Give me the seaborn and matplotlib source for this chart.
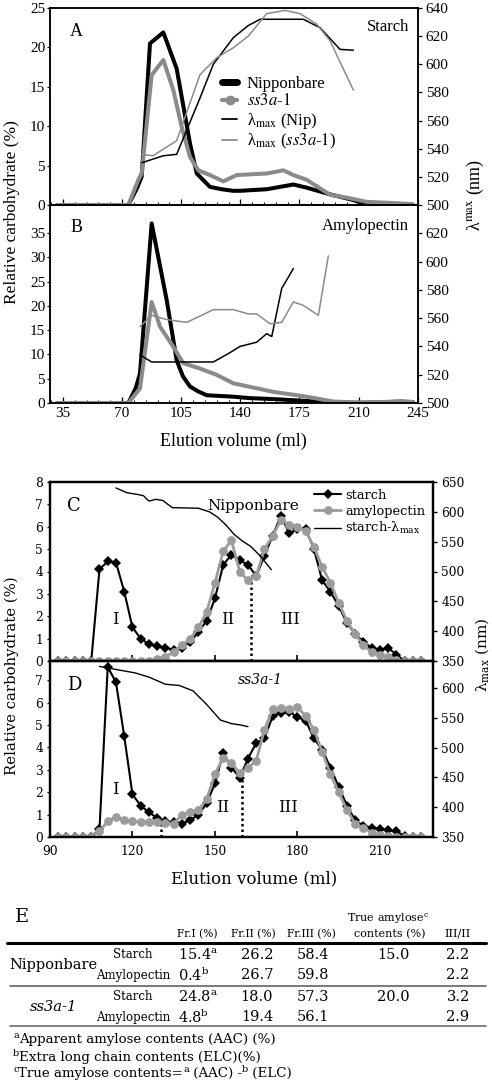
import numpy as np
import pandas as pd
import seaborn as sns
import matplotlib
matplotlib.use("Agg")
import matplotlib.pyplot as plt
from matplotlib.lines import Line2D
from matplotlib.font_manager import FontProperties
from matplotlib.ticker import MultipleLocator

# ---------------- panel A: starch, gel filtration (Relative carbohydrate %) ----------------
a_nip_vol = [31.5, 73.7, 78.7, 81.6, 86.5, 94.4, 102.3, 110.2, 114.2, 122, 129, 135.7,
             139.8, 155.6, 171.4, 179.3, 193.1, 206.9, 212.8, 230, 242.2]
a_nip_val = [0, 0, 2.1, 3.6, 20.5, 21.9, 17.3, 7.8, 4.0, 2.3, 2.0, 1.8,
             1.8, 2.0, 2.6, 2.2, 1.35, 0.63, 0.2, 0.1, 0]
a_ss3_vol = [31.5, 73.7, 79.6, 81.6, 87.5, 94.4, 100.3, 105.3, 110.2, 115.1, 122, 129.9,
             137.9, 155.6, 165.5, 171.4, 179.3, 193.1, 205, 214.8, 230.6, 242.2]
a_ss3_val = [0, 0, 3.2, 4.0, 16.5, 18.4, 14.6, 9.9, 6.1, 4.4, 3.8, 3.0,
             3.8, 4.0, 4.4, 3.8, 3.2, 1.3, 0.85, 0.4, 0.25, 0.1]
# lambda max (nm)
a_lam_nip_vol = [81.6, 94.4, 102.3, 116.1, 124, 135.9, 144.7, 151.7, 177.3, 187.2, 199, 206.9]
a_lam_nip_nm = [530, 535, 536, 576, 600, 619, 627.5, 632, 632, 626, 610.6, 610]
a_lam_ss3_vol = [81.6, 88.3, 102.3, 116.1, 126, 135.9, 144.7, 155.6, 166.5, 175.3, 185.2, 193.1, 206.9]
a_lam_ss3_nm = [536, 535, 545.7, 592.6, 604.6, 611.8, 620, 636, 638.3, 636, 628.6, 616.7, 581.7]

# ---------------- panel B: amylopectin ----------------
b_nip_vol = [31.5, 73.7, 78, 80.6, 87.5, 96.4, 102.3, 106, 110.2, 115, 120.1, 128, 135.9,
             145.7, 160, 175, 190, 200, 220, 235, 242.2]
b_nip_val = [0, 0, 3, 6.1, 37, 21.2, 8.8, 5.5, 3.4, 2.4, 1.6, 1.45, 1.3,
             1.0, 0.8, 0.5, 0.2, 0, 0.1, 0.3, 0.2]
b_ss3_vol = [31.5, 73.7, 80.6, 87.5, 92.5, 100.3, 106.2, 116.1, 126, 135.9, 144.7, 159.5,
             179.3, 195.1, 210, 234.6, 242.2]
b_ss3_val = [0, 0, 3.0, 20.8, 15.7, 11.6, 8.2, 7.1, 5.8, 4.05, 3.4, 2.3,
             1.3, 0.3, 0.1, 0.3, 0.2]
b_lam_nip_vol = [80.6, 87.5, 124, 133, 139.8, 149.7, 155.6, 158.6, 164.5, 171.4]
b_lam_nip_nm = [534, 529, 529, 535, 540, 543, 549, 547, 581, 595]
b_lam_ss3_vol = [80.6, 87.5, 96.4, 108.3, 124, 135.9, 144.7, 149.7, 157.6, 164.5, 171.4, 177.3, 186.2, 192.1]
b_lam_ss3_nm = [554, 562, 559, 557, 566, 566, 563, 563, 556, 557, 571.5, 569, 562, 604]

ab_xticks = [35, 70, 105, 140, 175, 210, 245]

# ---------------- panels C / D: debranched, fractions every 3 ml ----------------
cd_vol = [93, 96, 99, 102, 105, 108, 111, 114, 117, 120, 123, 126, 129, 132, 135,
          138, 141, 144, 147, 150, 153, 156, 159, 162, 165, 168, 171, 174, 177, 180,
          183, 186, 189, 192, 195, 198, 201, 204, 207, 210, 213, 216, 219, 222, 225]
c_starch = [0, 0, 0, 0, 0, 4.1, 4.45, 4.4, 3.1, 1.5, 1.0, 0.75, 0.65, 0.6, 0.5,
            0.6, 0.85, 1.3, 1.8, 2.8, 4.3, 4.75, 4.5, 4.3, 3.8, 4.7, 5.6, 6.5, 5.7, 5.9,
            5.9, 5.0, 3.6, 3.1, 2.45, 1.7, 1.2, 0.86, 0.58, 0.5, 0.58, 0.29, 0, 0, 0]
c_amylo = [0, 0, 0, 0, 0, 0, 0, 0, 0, 0, 0, 0, 0.1, 0.2, 0.4,
           0.7, 1.0, 1.5, 2.2, 3.5, 4.9, 5.4, 4.0, 3.6, 3.8, 5.0, 5.6, 6.3, 6.1, 6.0,
           5.8, 5.1, 4.2, 3.5, 2.6, 1.8, 1.2, 0.7, 0.4, 0.27, 0.2, 0.05, 0, 0, 0]
c_lam_vol = [114, 118, 122, 124, 126, 128.5, 131, 134.5, 144, 148, 151, 154, 157, 160, 163, 166.5, 170.5]
c_lam_nm = [640, 632, 629, 627, 618, 621, 619, 607, 606, 600, 591, 578, 562, 551, 542, 526, 503]
c_cut_vol = [163]
c_cut_top = [3.6]

d_starch = [0, 0, 0, 0, 0, 0.35, 7.6, 6.9, 4.5, 1.9, 1.4, 1.1, 0.85, 0.7, 0.65,
            0.6, 0.75, 1.0, 1.5, 2.4, 3.75, 3.1, 2.65, 3.5, 4.2, 4.4, 5.4, 5.55, 5.6, 5.35,
            5.2, 4.4, 3.9, 3.1, 2.25, 1.4, 0.75, 0.5, 0.42, 0.35, 0.3, 0.25, 0.05, 0, 0]
d_amylo = [0, 0, 0, 0, 0, 0.25, 0.7, 0.9, 0.75, 0.7, 0.68, 0.66, 0.65, 0.62, 0.6,
           1.0, 1.1, 1.2, 1.7, 2.8, 3.55, 3.3, 2.85, 3.1, 3.4, 4.8, 5.7, 5.75, 5.7, 5.8,
           5.4, 4.8, 3.8, 2.8, 2.0, 1.2, 0.6, 0.4, 0.2, 0.1, 0.05, 0, 0, 0, 0]
d_lam_vol = [108, 115, 121, 126, 132, 137, 142, 147, 152, 156, 159, 162]
d_lam_nm = [636, 630, 625, 618, 606, 604, 595, 572, 546, 540, 538, 535]
d_cut_vol = [130.5, 160]
d_cut_top = [0.6, 2.7]

cd_xticks = [90, 120, 150, 180, 210]

# ---------------- table E ----------------
tab_lines = ["Nipponbare", "ss3a-1"]
tab_prep = ["Starch", "Amylopectin", "Starch", "Amylopectin"]
tab_fr1 = ["15.4", "0.4", "24.8", "4.8"]
tab_fr1_note = ["a", "b", "a", "b"]
tab_fr2 = ["26.2", "26.7", "18.0", "19.4"]
tab_fr3 = ["58.4", "59.8", "57.3", "56.1"]
tab_true = ["15.0", "", "20.0", ""]
tab_ratio = ["2.2", "2.2", "3.2", "2.9"]

BLACK = "black"
GREY = "#8a8a8a"
DOT = "#9c9c9c"
SERIF2 = "DejaVu Serif"

sns.set_style("white")
plt.rcParams.update({
    "font.family": ["Liberation Serif", "DejaVu Serif"],
    "mathtext.fontset": "stix",
    "axes.edgecolor": "black",
    "text.color": "black",
    "xtick.color": "black",
    "ytick.color": "black",
})

W, H = 492, 1092
fig = plt.figure(figsize=(W / 100, H / 100), dpi=100)


def fx(px):
    return px / W


def fy(py):
    return 1 - py / H


def add_ax(l, t, r, b):
    return fig.add_axes([fx(l), fy(b), (r - l) / W, (b - t) / H])


def draw(ax, x, y, **kw):
    sns.lineplot(x=x, y=y, ax=ax, estimator=None, errorbar=None, sort=False,
                 legend=False, **kw)


# ---------- A / B ----------
ax_a = add_ax(50, 8, 418, 205)
ax_b = add_ax(50, 205, 418, 403)
tw_a = ax_a.twinx()
tw_b = ax_b.twinx()

for ax, tw, nv, nval, sv, sval, lnv, lnn, lsv, lsn in [
        (ax_a, tw_a, a_nip_vol, a_nip_val, a_ss3_vol, a_ss3_val,
         a_lam_nip_vol, a_lam_nip_nm, a_lam_ss3_vol, a_lam_ss3_nm),
        (ax_b, tw_b, b_nip_vol, b_nip_val, b_ss3_vol, b_ss3_val,
         b_lam_nip_vol, b_lam_nip_nm, b_lam_ss3_vol, b_lam_ss3_nm)]:
    draw(ax, nv, nval, color=BLACK, linewidth=2.9)
    draw(ax, sv, sval, color=GREY, linewidth=2.9)
    draw(tw, lnv, lnn, color=BLACK, linewidth=1.1)
    draw(tw, lsv, lsn, color=GREY, linewidth=1.1)

for ax, tw, ylim, yt, rt, showx in [
        (ax_a, tw_a, (0, 25), [0, 5, 10, 15, 20, 25], [500, 520, 540, 560, 580, 600, 620, 640], False),
        (ax_b, tw_b, (0, 40.8), [0, 5, 10, 15, 20, 25, 30, 35], [500, 520, 540, 560, 580, 600, 620], True)]:
    ax.set_xlim(27.3, 245.2)
    ax.set_ylim(*ylim)
    ax.set_xticks(ab_xticks)
    ax.xaxis.set_minor_locator(MultipleLocator(7))
    ax.set_yticks(yt)
    tw.set_ylim(500, 640)
    tw.set_yticks(rt)
    ax.set_xlabel("")
    ax.set_ylabel("")
    tw.set_ylabel("")
    ax.tick_params(axis="x", which="major", direction="in", length=4, width=0.9,
                   bottom=True, labelbottom=showx, labelsize=11, pad=3)
    ax.tick_params(axis="x", which="minor", direction="in", length=2.5, width=0.8, bottom=True)
    ax.tick_params(axis="y", direction="out", length=2, width=0.9, left=True, labelsize=11, pad=1.5)
    tw.tick_params(axis="y", direction="out", length=3, width=0.9, right=True, labelsize=11, pad=2.5)
    for a in (ax, tw):
        for s in a.spines.values():
            s.set_linewidth(1.1)
            s.set_color(BLACK)

ax_a.text(0.055, 0.88, "A", transform=ax_a.transAxes, fontsize=13, va="center")
ax_a.text(0.975, 0.905, "Starch", transform=ax_a.transAxes, fontsize=12, ha="right", va="center")
ax_b.text(0.055, 0.885, "B", transform=ax_b.transAxes, fontsize=13, va="center")
ax_b.text(0.975, 0.895, "Amylopectin", transform=ax_b.transAxes, fontsize=12, ha="right", va="center")

leg_fp = FontProperties(family="Liberation Serif", size=12, math_fontfamily="stix")
leg_h = [Line2D([], [], color=BLACK, lw=5),
         Line2D([], [], color=GREY, lw=3, marker="o", ms=6),
         Line2D([], [], color=BLACK, lw=1.3),
         Line2D([], [], color=GREY, lw=1.3)]
leg_l = ["Nipponbare", r"$\mathit{ss3a}$-$\mathit{1}$", r"λ$_{\rm max}$ (Nip)",
         r"λ$_{\rm max}$ ($\mathit{ss3a}$-$\mathit{1}$)"]
tw_a.legend(leg_h, leg_l, loc="upper left", bbox_to_anchor=(fx(222), fy(76)),
            bbox_transform=fig.transFigure, frameon=False, prop=leg_fp,
            handlelength=0.9, handletextpad=0.6, labelspacing=0.08, borderpad=0,
            borderaxespad=0)

fig.text(fx(12), fy(212), "Relative carbohydrate (%)", rotation=90, fontsize=12.5,
         ha="center", va="center")
fig.text(fx(475), fy(195), r"λ$^{\rm max}$ (nm)", rotation=90, fontsize=13,
         ha="center", va="center", math_fontfamily="stix")
fig.text(fx(233), fy(441), "Elution volume (ml)", fontsize=13, ha="center", va="center")

# ---------- C / D ----------
ax_c = add_ax(50, 482, 433, 661)
ax_d = add_ax(50, 661, 433, 837)
tw_c = ax_c.twinx()
tw_d = ax_d.twinx()

for ax, tw, st, am, lv, ln, cv, ct in [
        (ax_c, tw_c, c_starch, c_amylo, c_lam_vol, c_lam_nm, c_cut_vol, c_cut_top),
        (ax_d, tw_d, d_starch, d_amylo, d_lam_vol, d_lam_nm, d_cut_vol, d_cut_top)]:
    ax.vlines(cv, 0, ct, colors=BLACK, linestyles=(0, (1, 1.2)), linewidth=1.8, zorder=1)
    draw(ax, cd_vol, st, color=BLACK, linewidth=1.5, marker="D", markersize=5,
         markeredgewidth=0, markerfacecolor=BLACK)
    draw(ax, cd_vol, am, color=DOT, linewidth=2.0, marker="o", markersize=6.3,
         markeredgewidth=0, markerfacecolor=DOT)
    draw(tw, lv, ln, color=BLACK, linewidth=1.0)

for ax, tw, ylim, yt, rlim, rt, showx in [
        (ax_c, tw_c, (0, 8), list(range(0, 9)), (350, 650), [350, 400, 450, 500, 550, 600, 650], False),
        (ax_d, tw_d, (0, 7.86), list(range(0, 8)), (350, 645), [350, 400, 450, 500, 550, 600], True)]:
    ax.set_xlim(90, 229.3)
    ax.set_ylim(*ylim)
    ax.set_xticks(cd_xticks)
    ax.set_yticks(yt)
    tw.set_ylim(*rlim)
    tw.set_yticks(rt)
    ax.set_xlabel("")
    ax.set_ylabel("")
    tw.set_ylabel("")
    ax.tick_params(axis="x", direction="in", length=4, width=1.2, bottom=True,
                   labelbottom=showx, labelsize=8.8, pad=6, labelfontfamily=SERIF2)
    ax.tick_params(axis="y", direction="out", length=2, width=1.0, left=True,
                   labelsize=8.8, pad=3, labelfontfamily=SERIF2)
    tw.tick_params(axis="y", direction="out", length=3, width=1.0, right=True,
                   labelsize=8.8, pad=3, labelfontfamily=SERIF2)
    for a in (ax, tw):
        for s in a.spines.values():
            s.set_linewidth(1.6)
            s.set_color(BLACK)

ax_c.text(0.045, 0.865, "C", transform=ax_c.transAxes, fontsize=13, va="center", family=SERIF2)
ax_c.text(fx(207), fy(506), "Nipponbare", transform=fig.transFigure, fontsize=11,
          va="center", family=SERIF2)
ax_d.text(0.045, 0.865, "D", transform=ax_d.transAxes, fontsize=13, va="center", family=SERIF2)
ax_d.text(fx(238), fy(680), "ss3a-1", transform=fig.transFigure, fontsize=10,
          va="center", family=SERIF2, style="italic")

for x, y, s in [(115, 620, "I"), (228, 620, "II"), (290, 619, "III"),
                (115, 790, "I"), (223, 808, "II"), (288, 808, "III")]:
    fig.text(fx(x), fy(y), s, fontsize=12, ha="center", va="center", family=SERIF2)

leg2_fp = FontProperties(family=SERIF2, size=9.4, math_fontfamily="dejavuserif")
leg2_h = [Line2D([], [], color=BLACK, lw=1.5, marker="D", ms=5, mew=0),
          Line2D([], [], color=DOT, lw=2.0, marker="o", ms=6.3, mew=0),
          Line2D([], [], color=BLACK, lw=1.0)]
leg2_l = ["starch", "amylopectin", r"starch-λ$_{\rm max}$"]
tw_c.legend(leg2_h, leg2_l, loc="upper left", bbox_to_anchor=(fx(314), fy(489)),
            bbox_transform=fig.transFigure, frameon=False, prop=leg2_fp,
            handlelength=2.1, handletextpad=0.3, labelspacing=0.2, borderpad=0,
            borderaxespad=0)

fig.text(fx(12), fy(676), "Relative carbohydrate (%)", rotation=90, fontsize=10.7,
         ha="center", va="center", family=SERIF2)
fig.text(fx(482), fy(655), r"λ$_{\rm max}$ (nm)", rotation=90, fontsize=11,
         ha="center", va="center", family=SERIF2, math_fontfamily="dejavuserif")
fig.text(fx(254), fy(879), "Elution volume (ml)", fontsize=12, ha="center", va="center",
         family=SERIF2)

# ---------- table E ----------


def T(x, y, s, size, ha="center", **kw):
    return fig.text(fx(x), fy(y), s, fontsize=size, ha=ha, va="center", family=SERIF2,
                    math_fontfamily="dejavuserif", **kw)


T(15, 917, "E", 14, ha="left")
T(197, 934, "Fr.I (%)", 7.6)
T(253, 934, "Fr.II (%)", 7.6)
T(311, 934, "Fr.III (%)", 7.6)
T(388, 919, r"True amylose$^{\rm c}$", 8)
T(390, 934, "contents (%)", 8)
T(458, 934, "III/II", 8)

row_y = [955, 975, 997, 1017]
for i, y in enumerate(row_y):
    T(133, y, tab_prep[i], 8.5)
    T(178, y, tab_fr1[i] + r"$^{\rm " + tab_fr1_note[i] + "}$", 10.5, ha="left")
    T(257, y, tab_fr2[i], 10.5)
    T(313, y, tab_fr3[i], 10.5)
    if tab_true[i]:
        T(393, y, tab_true[i], 10.5)
    T(458, y, tab_ratio[i], 10.5)

T(53, 965, tab_lines[0], 10.5)
T(53, 1007, tab_lines[1], 10.5, style="italic")

fig.add_artist(Line2D([fx(7), fx(486)], [fy(943), fy(943)], color=BLACK, lw=2.2))
fig.add_artist(Line2D([fx(10), fx(486)], [fy(985.5), fy(985.5)], color="#555555", lw=1.1))
fig.add_artist(Line2D([fx(10), fx(486)], [fy(1026), fy(1026)], color="#777777", lw=1.3))

# footnotes: small raised letters written as separate texts
renderer = fig.canvas.get_renderer()


def chain(x, y, parts):
    for s, sup in parts:
        t = T(x, y - 4 if sup else y, s, 7 if sup else 9.6, ha="left")
        x += t.get_window_extent(renderer).width


chain(13, 1040, [("a", True), ("Apparent amylose contents (AAC) (%)", False)])
chain(13, 1057, [("b", True), ("Extra long chain contents (ELC)(%)", False)])
chain(13, 1073, [("c", True), ("True amylose contents=", False), ("a", True),
                 (" (AAC) -", False), ("b", True), (" (ELC)", False)])

fig.savefig("out.png", dpi=100)
